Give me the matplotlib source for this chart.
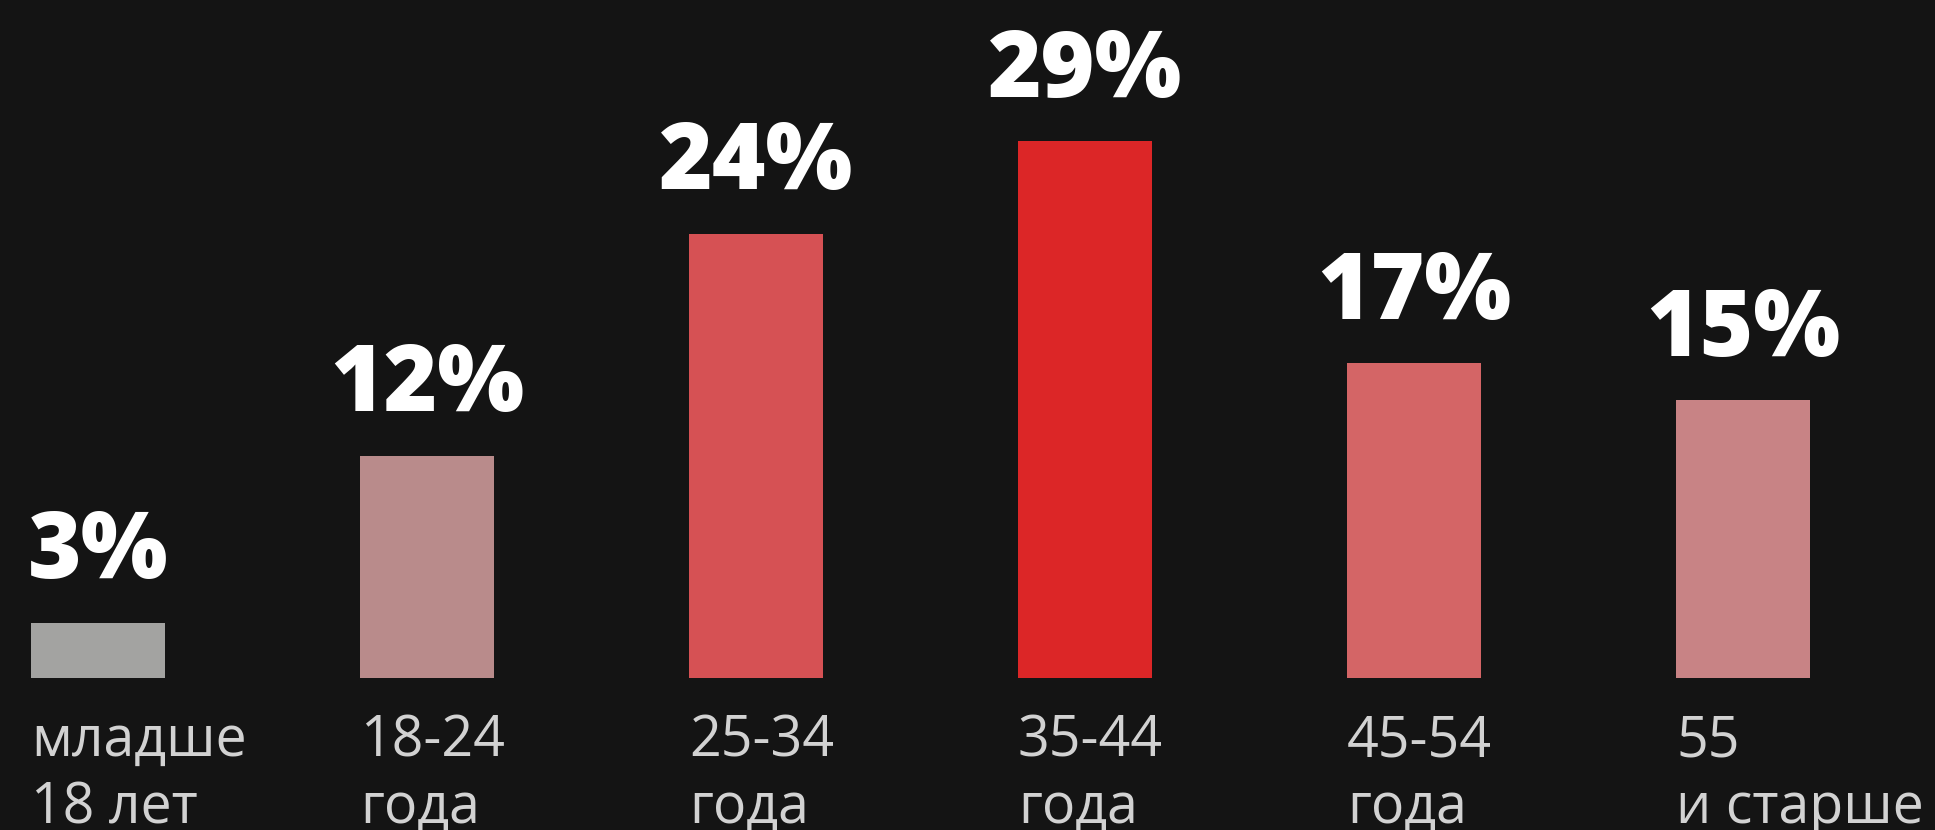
import matplotlib
matplotlib.use("Agg")
import matplotlib.pyplot as plt

categories = ["младше\n18 лет", "18-24\nгода", "25-34\nгода", "35-44\nгода", "45-54\nгода", "55\nи старше"]
values = [3, 12, 24, 29, 17, 15]
value_labels = ["3%", "12%", "24%", "29%", "17%", "15%"]
bar_colors = ["#a3a3a1", "#b98b8b", "#d65154", "#dc2627", "#d46566", "#c88385"]

BG = "#141414"
fig = plt.figure(figsize=(19.35, 8.3), dpi=100, facecolor=BG)
ax = fig.add_axes([0, 0, 1, 1])
ax.set_facecolor(BG)

step = 329.0
xs = list(range(len(categories)))
ax.bar(xs, values, width=134 / step, color=bar_colors, linewidth=0)
ax.set_xlim(-98 / step, (1935 - 98) / step)
ax.set_ylim(-152 / 18.5, (830 - 152) / 18.5)
ax.axis("off")

for x, v, lab in zip(xs, values, value_labels):
    ax.annotate(lab, xy=(x, v), xytext=(0, 45), textcoords="offset pixels",
                ha="center", va="baseline", color="white",
                fontsize=66, fontweight="heavy", family=["Open Sans", "DejaVu Sans"])

half = 134 / step / 2
for x, cat in zip(xs, categories):
    for k, line in enumerate(cat.split("\n")):
        ax.annotate(line, xy=(x - half, 0), xytext=(0, -78 - 67 * k), textcoords="offset pixels",
                    ha="left", va="baseline", color="#d2d2d2",
                    fontsize=40, fontweight="medium", family=["Open Sans", "DejaVu Sans"])

fig.savefig("out.png", dpi=100, facecolor=BG)
